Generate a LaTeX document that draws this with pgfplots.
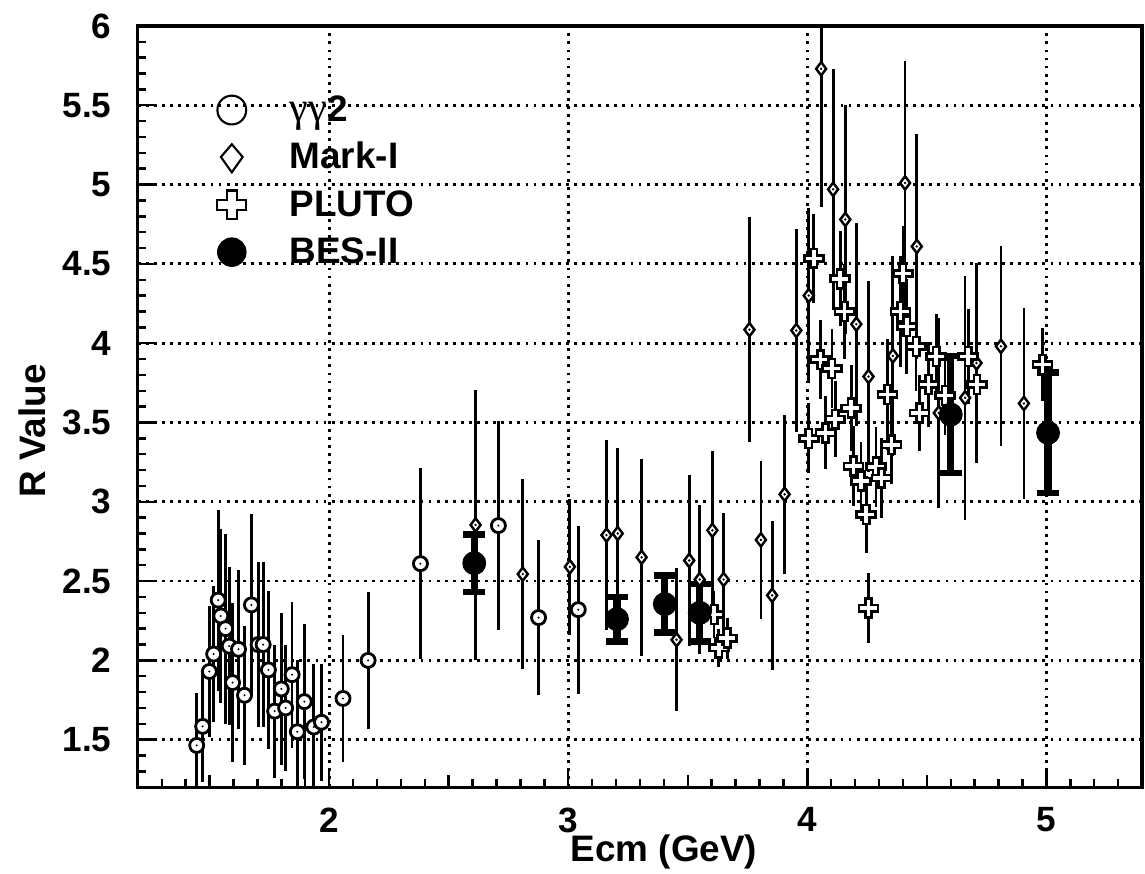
\documentclass[border=0pt]{standalone}
\usepackage{fontspec}
\setmainfont{Liberation Sans}
\newfontfamily\serifgr{Liberation Serif}
\usepackage{pgfplots}
\pgfplotsset{compat=1.18}

\pgfdeclareplotmark{circdot}{%
  \pgfpathcircle{\pgfpointorigin}{\pgfplotmarksize}\pgfusepathqfillstroke
  \begin{pgfscope}\pgfsetfillcolor{black}%
  \pgfpathcircle{\pgfpointorigin}{0.16\pgfplotmarksize}\pgfusepathqfill\end{pgfscope}}
\pgfdeclareplotmark{diamdot}{%
  \pgfpathmoveto{\pgfqpoint{0pt}{\pgfplotmarksize}}%
  \pgfpathlineto{\pgfqpoint{0.75\pgfplotmarksize}{0pt}}%
  \pgfpathlineto{\pgfqpoint{0pt}{-\pgfplotmarksize}}%
  \pgfpathlineto{\pgfqpoint{-0.75\pgfplotmarksize}{0pt}}%
  \pgfpathclose\pgfusepathqfillstroke
  \begin{pgfscope}\pgfsetfillcolor{black}%
  \pgfpathcircle{\pgfpointorigin}{0.2\pgfplotmarksize}\pgfusepathqfill\end{pgfscope}}
\pgfdeclareplotmark{hollowplus}{%
  \pgfpathmoveto{\pgfqpoint{-0.33\pgfplotmarksize}{\pgfplotmarksize}}%
  \pgfpathlineto{\pgfqpoint{0.33\pgfplotmarksize}{\pgfplotmarksize}}%
  \pgfpathlineto{\pgfqpoint{0.33\pgfplotmarksize}{0.33\pgfplotmarksize}}%
  \pgfpathlineto{\pgfqpoint{\pgfplotmarksize}{0.33\pgfplotmarksize}}%
  \pgfpathlineto{\pgfqpoint{\pgfplotmarksize}{-0.33\pgfplotmarksize}}%
  \pgfpathlineto{\pgfqpoint{0.33\pgfplotmarksize}{-0.33\pgfplotmarksize}}%
  \pgfpathlineto{\pgfqpoint{0.33\pgfplotmarksize}{-\pgfplotmarksize}}%
  \pgfpathlineto{\pgfqpoint{-0.33\pgfplotmarksize}{-\pgfplotmarksize}}%
  \pgfpathlineto{\pgfqpoint{-0.33\pgfplotmarksize}{-0.33\pgfplotmarksize}}%
  \pgfpathlineto{\pgfqpoint{-\pgfplotmarksize}{-0.33\pgfplotmarksize}}%
  \pgfpathlineto{\pgfqpoint{-\pgfplotmarksize}{0.33\pgfplotmarksize}}%
  \pgfpathlineto{\pgfqpoint{-0.33\pgfplotmarksize}{0.33\pgfplotmarksize}}%
  \pgfpathclose\pgfusepathqfillstroke}

\pgfplotstableread{
x y e
1.446 1.464 0.33
1.471 1.584 0.35
1.499 1.93 0.41
1.517 2.04 0.43
1.536 2.38 0.57
1.547 2.28 0.55
1.567 2.20 0.60
1.582 2.09 0.50
1.596 1.86 0.50
1.621 2.07 0.50
1.646 1.78 0.44
1.675 2.35 0.57
1.703 2.10 0.52
1.724 2.10 0.52
1.746 1.94 0.50
1.772 1.68 0.42
1.800 1.82 0.48
1.818 1.70 0.40
1.845 1.91 0.46
1.867 1.55 0.45
1.896 1.74 0.49
1.936 1.58 0.40
1.968 1.61 0.37
2.058 1.76 0.40
2.163 2.00 0.43
2.382 2.61 0.60
2.708 2.85 0.66
2.876 2.27 0.49
3.042 2.32 0.53
}\gammatwo

\pgfplotstableread{
x y e
2.6125 2.854 0.85
2.810 2.544 0.60
3.007 2.590 0.43
3.160 2.790 0.60
3.207 2.800 0.54
3.307 2.650 0.62
3.453 2.130 0.45
3.506 2.630 0.54
3.550 2.510 0.47
3.603 2.820 0.50
3.650 2.510 0.42
3.758 4.085 0.71
3.806 2.760 0.50
3.853 2.410 0.47
3.905 3.047 0.50
3.954 4.080 0.64
4.006 4.300 0.55
4.058 5.730 0.87
4.108 4.970 0.76
4.159 4.780 0.72
4.205 4.120 0.64
4.256 3.790 0.60
4.358 3.920 0.63
4.409 5.010 0.77
4.458 4.610 0.71
4.550 3.560 0.60
4.660 3.655 0.77
4.708 3.875 0.63
4.810 3.980 0.63
4.906 3.620 0.60
}\markone

\pgfplotstableread{
x y e
3.610 2.290 0.15
3.630 2.080 0.12
3.665 2.140 0.13
4.006 3.400 0.22
4.027 4.535 0.28
4.055 3.896 0.25
4.076 3.435 0.23
4.103 3.840 0.25
4.117 3.520 0.24
4.138 4.406 0.30
4.156 4.200 0.30
4.184 3.590 0.27
4.193 3.225 0.25
4.225 3.130 0.25
4.246 2.920 0.24
4.256 2.330 0.22
4.2875 3.220 0.25
4.310 3.150 0.25
4.335 3.676 0.35
4.352 3.360 0.25
4.390 4.200 0.35
4.400 4.440 0.30
4.416 4.106 0.30
4.455 3.980 0.28
4.469 3.560 0.24
4.507 3.740 0.27
4.539 3.917 0.27
4.576 3.670 0.25
4.673 3.917 0.30
4.710 3.740 0.30
4.984 3.865 0.23
}\pluto

\pgfplotstableread{
x y e
2.607 2.613 0.18
3.204 2.260 0.14
3.404 2.355 0.18
3.550 2.300 0.18
4.600 3.550 0.37
5.007 3.435 0.38
}\bes

\begin{document}
\begin{tikzpicture}
\begin{axis}[
  scale only axis, width=100.5mm, height=76.2mm,
  xmin=1.2, xmax=5.4, ymin=1.2, ymax=6,
  xtick={2,3,4,5}, ytick={1.5,2,...,6},
  minor xtick={1.2,1.3,...,5.45}, minor ytick={1.2,1.3,...,6.05},
  extra x ticks={1.5,2.5,3.5,4.5},
  extra x tick labels={},
  extra x tick style={grid=none, major tick length=1.2mm},
  tick pos=left, tick align=inside,
  major tick length=1.7mm, minor tick length=0.8mm,
  grid=major,
  major grid style={black, line width=0.8pt, dash pattern=on 0.8pt off 1.5pt},
  axis line style={line width=0.9pt},
  every tick/.style={black, line width=0.7pt},
  /pgf/number format/assume math mode=true,
  tick label style={font=\fontsize{10}{12}\selectfont\bfseries},
  xticklabel style={yshift=-0.8mm},
  yticklabel style={xshift=-1.4mm},
  xlabel={Ecm (GeV)}, ylabel={R Value},
  label style={font=\fontsize{10.5}{12}\selectfont\bfseries},
  x label style={at={(axis description cs:0.524,-0.085)}, anchor=center},
  y label style={at={(axis description cs:-0.1055,0.468)}, anchor=center},
  legend cell align=left,
  legend style={draw=none, fill=none, at={(rel axis cs:0.0525,0.92)}, anchor=north west,
    font=\fontsize{10.5}{12}\selectfont\bfseries, row sep=1.4mm, column sep=2.8mm,
    nodes={inner sep=0pt, text height=2.6mm, text depth=0.7mm}},
]
% Mark-I
\addplot[forget plot, only marks, mark=diamdot, mark size=1.9pt,
  mark options={fill=white, draw=black, line width=0.7pt},
  error bars/.cd, y dir=both, y explicit, error mark=none,
  error bar style={line width=0.8pt, black}]
  table[x=x, y=y, y error=e]{\markone};
% PLUTO
\addplot[forget plot, only marks, mark=hollowplus, mark size=2.7pt,
  mark options={fill=white, draw=black, line width=0.75pt},
  error bars/.cd, y dir=both, y explicit, error mark=none,
  error bar style={line width=0.8pt, black}]
  table[x=x, y=y, y error=e]{\pluto};
% gamma gamma 2
\addplot[forget plot, only marks, mark=circdot, mark size=2.0pt,
  mark options={fill=white, draw=black, line width=0.8pt},
  error bars/.cd, y dir=both, y explicit, error mark=none,
  error bar style={line width=0.8pt, black}]
  table[x=x, y=y, y error=e]{\gammatwo};
% BES-II
\addplot[forget plot, only marks, mark=*, mark size=3.2pt,
  mark options={fill=black, draw=black},
  error bars/.cd, y dir=both, y explicit, error mark=-,
  error mark options={rotate=90, mark size=3.1pt, line width=1.8pt, black},
  error bar style={line width=2.1pt, black}]
  table[x=x, y=y, y error=e]{\bes};

\addlegendimage{legend image code/.code={\path[draw=none,fill=none] (0,-1.5mm) rectangle (6mm,1.5mm);
  \draw[black, fill=none, line width=0.6pt] (3mm,0.2mm) circle (4.1pt);}}
\addlegendentry{{\serifgr\mdseries\fontsize{12}{12}\selectfont γγ}2}
\addlegendimage{legend image code/.code={\path[draw=none,fill=none] (0,-1.5mm) rectangle (6mm,1.5mm);
  \draw[black, fill=none, line width=0.6pt] (3mm,4.2pt) -- (3mm+3.1pt,0.2mm) -- (3mm,-3.8pt) -- (3mm-3.1pt,0.2mm) -- cycle;}}
\addlegendentry{Mark-I}
\addlegendimage{legend image code/.code={\path[draw=none,fill=none] (0,-1.5mm) rectangle (6mm,1.5mm);
  \draw[black, fill=none, line width=0.6pt, shift={(3mm,0.2mm)}]
   (-1.4pt,4.1pt) -- (1.4pt,4.1pt) -- (1.4pt,1.4pt) -- (4.1pt,1.4pt) -- (4.1pt,-1.4pt) -- (1.4pt,-1.4pt)
   -- (1.4pt,-4.1pt) -- (-1.4pt,-4.1pt) -- (-1.4pt,-1.4pt) -- (-4.1pt,-1.4pt) -- (-4.1pt,1.4pt) -- (-1.4pt,1.4pt) -- cycle;}}
\addlegendentry{PLUTO}
\addlegendimage{legend image code/.code={\path[draw=none,fill=none] (0,-1.5mm) rectangle (6mm,1.5mm);
  \fill[black] (3mm,0.2mm) circle (4pt);}}
\addlegendentry{BES-II}
\end{axis}
\pgfresetboundingbox
\path[use as bounding box] ([shift={(-13.8mm,-8.6mm)}]current axis.south west) rectangle ([shift={(0.3mm,2.6mm)}]current axis.north east);
\end{tikzpicture}
\end{document}
